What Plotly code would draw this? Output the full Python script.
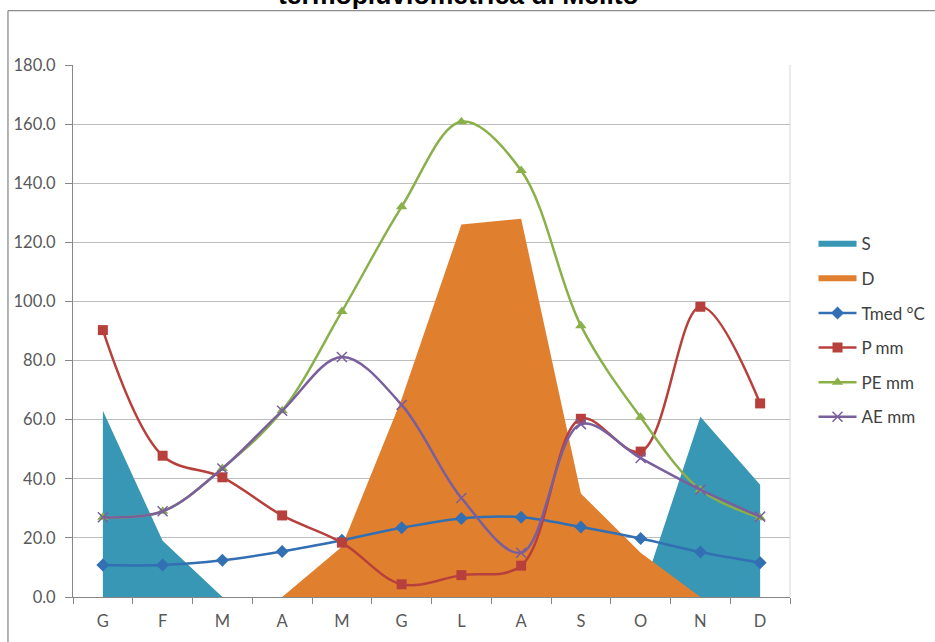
import plotly.graph_objects as go

months = ["G", "F", "M", "A", "M", "G", "L", "A", "S", "O", "N", "D"]
S_vals = [63, 19, 0, 0, 0, 0, 0, 0, 0, 0, 61, 38]
D_vals = [0, 0, 0, 0, 17, 67, 126, 128, 35, 15, 0, 0]
tmed = [10.8, 10.8, 12.4, 15.4, 19.2, 23.4, 26.6, 27.0, 23.7, 19.8, 15.2, 11.6]
p_mm = [90.3, 47.8, 40.5, 27.6, 18.4, 4.3, 7.4, 10.6, 60.3, 49.2, 98.2, 65.5]
pe_mm = [27.0, 29.0, 43.5, 63.0, 96.6, 132.0, 160.8, 144.3, 91.8, 60.8, 36.3, 26.8]
ae_mm = [27.0, 29.0, 43.5, 63.0, 81.2, 65.0, 33.5, 15.0, 58.5, 47.0, 36.3, 27.2]
y_ticks = [0, 20, 40, 60, 80, 100, 120, 140, 160, 180]

xs = list(range(len(months)))

C_S = "#3797B4"
C_D = "#E07F2E"
C_T = "#336FB3"
C_P = "#B8403C"
C_PE = "#8AB04A"
C_AE = "#7A5F9E"

fig = go.Figure()
fig.add_trace(go.Scatter(x=xs, y=S_vals, name="S", mode="none", fill="tozeroy",
                         fillcolor=C_S, legendgroup="S"))
fig.add_trace(go.Scatter(x=xs, y=D_vals, name="D", mode="none", fill="tozeroy",
                         fillcolor=C_D, legendgroup="D"))
fig.add_trace(go.Scatter(x=xs, y=tmed, name="Tmed °C", mode="lines+markers",
                         line=dict(color=C_T, width=2.5, shape="spline", smoothing=1),
                         marker=dict(symbol="diamond", size=10, color=C_T),
                         legendgroup="T"))
fig.add_trace(go.Scatter(x=xs, y=p_mm, name="P mm", mode="lines+markers",
                         line=dict(color=C_P, width=2.5, shape="spline", smoothing=1),
                         marker=dict(symbol="square", size=10, color=C_P),
                         legendgroup="P"))
fig.add_trace(go.Scatter(x=xs, y=pe_mm, name="PE mm", mode="lines+markers",
                         line=dict(color=C_PE, width=2.5, shape="spline", smoothing=1),
                         marker=dict(symbol="triangle-up", size=10, color=C_PE),
                         legendgroup="PE"))
fig.add_trace(go.Scatter(x=xs, y=ae_mm, name="AE mm", mode="lines+markers",
                         line=dict(color=C_AE, width=2.5, shape="spline", smoothing=1),
                         marker=dict(symbol="x-thin", size=10, color=C_AE,
                                     line=dict(color=C_AE, width=1.5)),
                         legendgroup="AE"))

tick_font = dict(family="Lato", size=16.5, color="#595959")

fig.update_layout(
    width=935, height=642,
    margin=dict(l=73, r=145, t=65, b=45, autoexpand=False),
    paper_bgcolor="white", plot_bgcolor="white",
    showlegend=True,
    legend=dict(x=1.0328, xanchor="left", y=0.697, yanchor="top",
                font=dict(family="Lato", size=17, color="#404040"),
                tracegroupgap=9.5, itemwidth=38, bgcolor="rgba(0,0,0,0)"),
    xaxis=dict(range=[-0.5, len(months) - 0.5], tickmode="array", tickvals=xs,
               ticktext=months, ticks="", showgrid=False, zeroline=False,
               showline=True, linecolor="#868686", linewidth=1,
               tickfont=tick_font, ticklabelstandoff=9,
               minor=dict(tickmode="linear", tick0=-0.5, dtick=1, ticks="outside",
                          ticklen=6, tickcolor="#868686", showgrid=False)),
    yaxis=dict(range=[0, 180], tickmode="array", tickvals=y_ticks,
               tickformat=".1f", ticks="outside", ticklen=7, tickcolor="#868686",
               showgrid=True, gridcolor="#BDBDBD", gridwidth=1, zeroline=False,
               showline=True, linecolor="#868686", linewidth=1,
               tickfont=tick_font, ticklabelstandoff=6),
    shapes=[
        dict(type="line", xref="paper", yref="paper", x0=1, x1=1, y0=0, y1=1,
             line=dict(color="#D6D6D6", width=1)),
        dict(type="line", xref="paper", yref="paper", x0=-0.0907, x1=1.3,
             y0=1.1021, y1=1.1021, line=dict(color="#8C8C8C", width=1.3)),
        dict(type="line", xref="paper", yref="paper", x0=-0.0907, x1=-0.0907,
             y0=1.1021, y1=-0.2, line=dict(color="#8C8C8C", width=1.3)),
    ],
    annotations=[
        dict(text="<b>termopluviometrica di Melito</b>", xref="paper", yref="paper",
             x=0.538, y=1.1005, xanchor="center", yanchor="bottom", showarrow=False,
             font=dict(family="Liberation Sans", size=26.5, color="black")),
    ],
)

fig.write_html("out.html", config={"displayModeBar": False},
               post_script="document.body.style.margin='0px';")
